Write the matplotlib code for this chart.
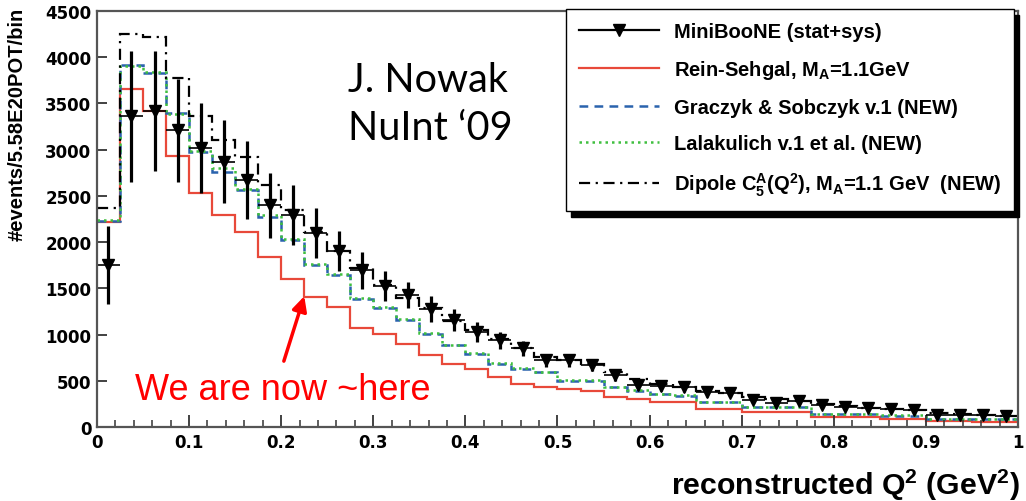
import numpy as np
import matplotlib.pyplot as plt
from matplotlib.lines import Line2D
from matplotlib.font_manager import FontProperties

# bold sans for the math bits (subscripts / superscripts)
plt.rcParams['mathtext.fontset'] = 'custom'
plt.rcParams['mathtext.rm'] = 'Liberation Sans:bold'
plt.rcParams['mathtext.it'] = 'Liberation Sans:bold'
plt.rcParams['mathtext.bf'] = 'Liberation Sans:bold'

# Q^2 binning (GeV^2), 40 bins of 0.025
q2_edges = np.linspace(0.0, 1.0, 41)
q2_centers = 0.5 * (q2_edges[:-1] + q2_edges[1:])
half_width = 0.0125

# MiniBooNE data (events / 5.58E20 POT / bin) and total error
data = [1750, 3360, 3420, 3210, 3020, 2870, 2670, 2400, 2295, 2100,
        1905, 1697, 1525, 1430, 1280, 1155, 1030, 937, 850, 720,
        720, 666, 560, 450, 440, 432, 375, 365, 295, 260,
        286, 240, 220, 205, 195, 185, 130, 130, 130, 115]
data_err = [420, 710, 650, 560, 490, 450, 420, 350, 325, 270,
            220, 200, 160, 140, 140, 120, 110, 90, 80, 70,
            70, 60, 60, 55, 50, 50, 45, 45, 40, 40,
            40, 35, 35, 35, 30, 30, 30, 30, 30, 30]

# model predictions
rein_sehgal = [2220, 3655, 3420, 2930, 2530, 2290, 2110, 1840, 1600, 1410,
               1303, 1075, 1010, 900, 774, 684, 630, 540, 467, 431,
               413, 394, 322, 304, 268, 268, 195, 195, 159, 159,
               159, 110, 110, 105, 87, 87, 60, 60, 58, 58]
graczyk = [2230, 3920, 3835, 3395, 2980, 2760, 2560, 2270, 2023, 1752,
           1643, 1390, 1290, 1160, 1010, 883, 793, 684, 630, 594,
           503, 503, 431, 394, 358, 340, 268, 268, 214, 214,
           214, 141, 141, 141, 123, 123, 87, 87, 87, 87]
lalakulich = [2235, 3910, 3845, 3390, 2990, 2800, 2575, 2290, 2035, 1765,
              1650, 1400, 1300, 1170, 1015, 890, 800, 690, 636, 598,
              510, 508, 436, 398, 362, 344, 272, 270, 218, 216,
              216, 145, 143, 143, 125, 125, 90, 89, 89, 89]
dipole = [2370, 4250, 4220, 3775, 3360, 3100, 2920, 2620, 2350, 2114,
          1900, 1720, 1540, 1400, 1290, 1150, 1050, 950, 860, 760,
          720, 680, 600, 520, 470, 430, 390, 370, 330, 300,
          280, 250, 230, 210, 190, 180, 150, 140, 130, 115]

labels = ['MiniBooNE (stat+sys)',
          'Rein-Sehgal, M$_A$=1.1GeV',
          'Graczyk & Sobczyk v.1 (NEW)',
          'Lalakulich v.1 et al. (NEW)',
          'Dipole C$_5^A$(Q$^2$), M$_A$=1.1 GeV  (NEW)']

red = '#e8493a'
blue = '#2a63ad'
green = '#3fbf3f'

fig = plt.figure(figsize=(10.26, 5.02), dpi=100)
ax = fig.add_axes([0.0945, 0.1474, 0.8977, 0.8286])

ax.stairs(rein_sehgal, q2_edges, baseline=None, color=red, lw=1.6)
ax.stairs(graczyk, q2_edges, baseline=None, color=blue, lw=1.8, ls=(0, (3.5, 2.5)))
ax.stairs(lalakulich, q2_edges, baseline=None, color=green, lw=1.8, ls=(0, (1, 1.6)))
ax.stairs(dipole, q2_edges, baseline=None, color='k', lw=1.6, ls=(0, (5, 2.5, 1, 2.5)))

# data: thin horizontal bin-width bars, thick vertical error bars
ax.errorbar(q2_centers, data, xerr=half_width, fmt='none', ecolor='k', elinewidth=1.2)
ax.errorbar(q2_centers, data, yerr=data_err, fmt='v', color='k', ms=9,
            elinewidth=2.3, capsize=0)

ax.set_xlim(0, 1)
ax.set_ylim(0, 4500)
ax.set_xticks(np.arange(0, 1.001, 0.1))
ax.set_xticklabels(['0', '0.1', '0.2', '0.3', '0.4', '0.5', '0.6', '0.7', '0.8', '0.9', '1'])
ax.set_xticks(np.arange(0, 1.001, 0.02), minor=True)
ax.set_yticks(np.arange(0, 4501, 500))
ax.tick_params(which='both', direction='in', top=False, right=False, colors='#333333',
               labelcolor='k', pad=4)
ax.tick_params(axis='x', which='major', length=9, width=1.3)
ax.tick_params(axis='x', which='minor', length=5, width=1.1)
ax.tick_params(axis='y', which='major', length=7, width=1.3)
for lab in ax.get_xticklabels() + ax.get_yticklabels():
    lab.set_fontweight('bold')
    lab.set_fontsize(12)
for sp in ax.spines.values():
    sp.set_color('#555555')
    sp.set_linewidth(1.6)

ax.set_ylabel('#events/5.58E20POT/bin', loc='top', fontsize=14.5, fontweight='bold',
              family='Liberation Sans')
ax.yaxis.set_label_coords(-0.076, 1.01)
fig.text(1020 / 1026, 0.014, 'reconstructed Q$^2$ (GeV$^2$)', ha='right', va='baseline',
         fontsize=21.8, fontweight='bold', family='Liberation Sans')

handles = [Line2D([], [], color='k', lw=1.6, marker='v', ms=8),
           Line2D([], [], color=red, lw=1.6),
           Line2D([], [], color=blue, lw=1.8, ls=(0, (3.5, 2.5))),
           Line2D([], [], color=green, lw=1.8, ls=(0, (1, 1.6))),
           Line2D([], [], color='k', lw=1.6, ls=(0, (5, 2.5, 1, 2.5)))]
leg = ax.legend(handles, labels, loc='upper left', bbox_to_anchor=(0.509, 1.005),
                borderaxespad=0,
                prop=FontProperties(family='Liberation Sans', weight='bold', size=14.5),
                frameon=True, fancybox=False, edgecolor='k', framealpha=1,
                shadow={'ox': 4, 'oy': -4, 'color': 'k', 'alpha': 1},
                handlelength=4.0, labelspacing=0.85, borderpad=0.65,
                handletextpad=0.7, numpoints=1)
leg.get_frame().set_linewidth(1.0)

# annotation
ax.text(0.041, 304, 'We are now ~here', color='red', fontsize=26,
        family='Liberation Sans', va='baseline')
ax.annotate('', xy=(0.226, 1444), xytext=(0.202, 684),
            arrowprops=dict(arrowstyle='-|>', color='red', lw=2.5, mutation_scale=22))

fig.text(348 / 1026, 1 - 92 / 502, 'J. Nowak', fontsize=28.5, family='Lato', va='baseline')
fig.text(348 / 1026, 1 - 140 / 502, 'NuInt \u201809', fontsize=28.5, family='Lato', va='baseline')

fig.savefig('out.png', dpi=100)
